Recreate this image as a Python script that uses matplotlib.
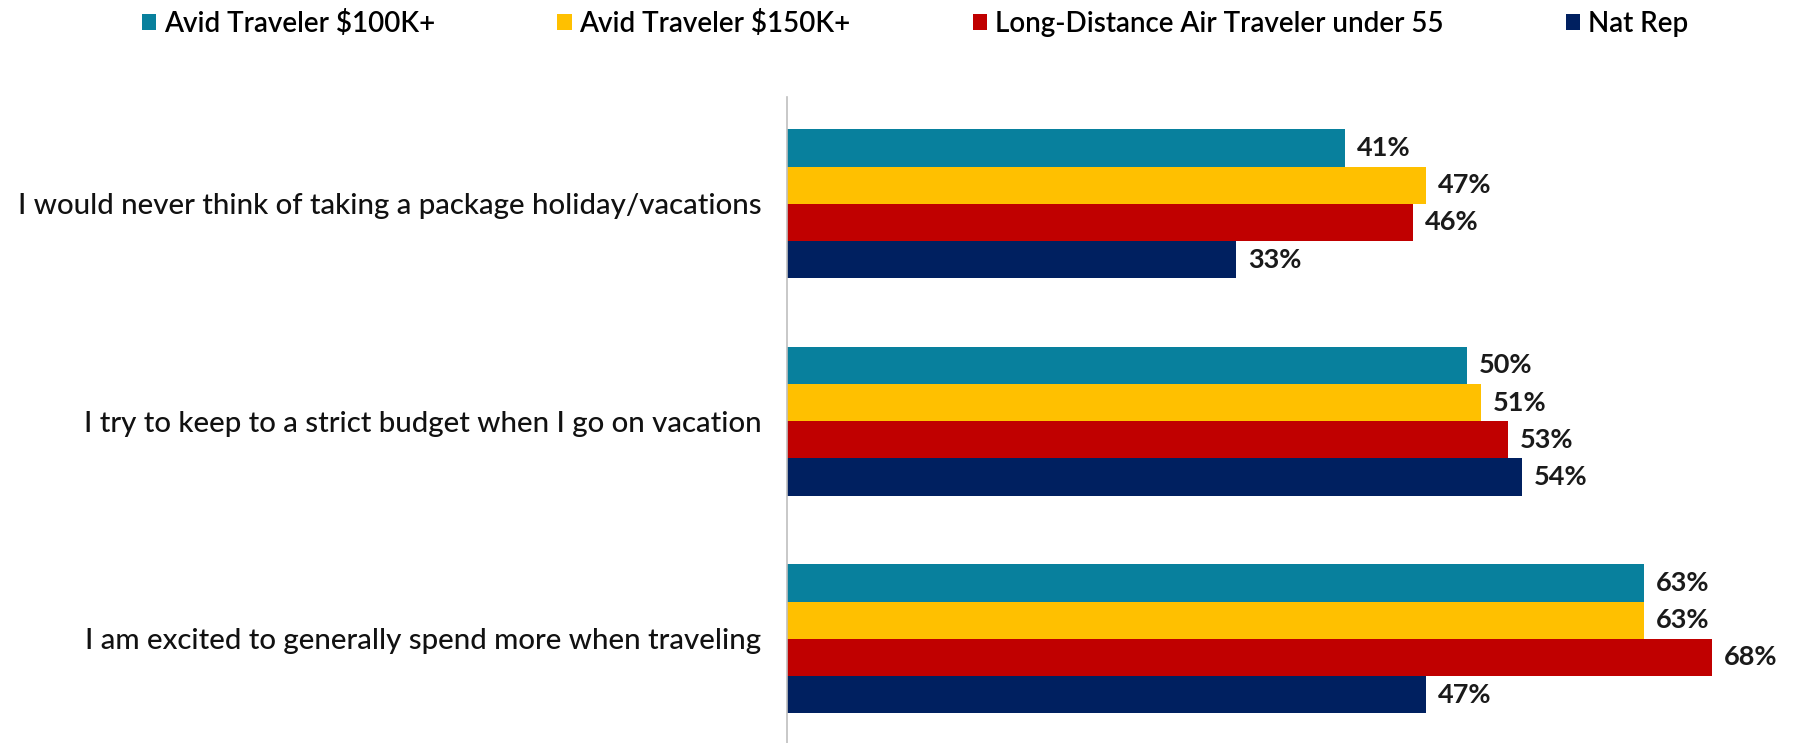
import numpy as np
import matplotlib.pyplot as plt
from matplotlib.patches import Patch

# Data
statements = ["I would never think of taking a package holiday/vacations",
              "I try to keep to a strict budget when I go on vacation",
              "I am excited to generally spend more when traveling"]
series_names = ["Avid Traveler $100K+",
                "Avid Traveler $150K+",
                "Long-Distance Air Traveler under 55",
                "Nat Rep"]
avid_100k = [41, 50, 63]
avid_150k = [47, 51, 63]
long_dist = [46, 53, 68]
nat_rep = [33, 54, 47]

colors = ["#08809D", "#FFC000", "#C00000", "#002060"]

plt.rcParams['font.family'] = ['Lato', 'DejaVu Sans']

fig = plt.figure(figsize=(17.95, 7.43), dpi=100)
ax = fig.add_axes([0.4382, 0.0, 0.546, 0.8695])

bar_h = 0.171
y = np.arange(len(statements))
all_series = [avid_100k, avid_150k, long_dist, nat_rep]

for i, (vals, col) in enumerate(zip(all_series, colors)):
    pos = y + (i - 1.5) * bar_h
    ax.barh(pos, vals, height=bar_h, color=col, edgecolor='none')
    for p, v in zip(pos, vals):
        ax.annotate(f"{v}%", (v, p), xytext=(12, 0), textcoords='offset pixels',
                    va='center', ha='left', fontsize=19.5, fontweight='bold',
                    color='#1a1a1a')

ax.set_xlim(0, 72)
ax.set_ylim(2.479, -0.491)
ax.set_yticks(y)
ax.set_yticklabels(statements, fontsize=21.2, color='#111111', fontweight='medium')
ax.tick_params(axis='y', length=0, pad=18)
ax.set_xticks([])

for s in ['top', 'right', 'bottom']:
    ax.spines[s].set_visible(False)
ax.spines['left'].set_color('#BFBFBF')
ax.spines['left'].set_linewidth(1.2)

handles = [Patch(facecolor=c, edgecolor='none') for c in colors]
fig.legend(handles, series_names, loc='center', bbox_to_anchor=(0.5097, 0.969),
           ncol=4, frameon=False, handlelength=0.52,
           handleheight=0.52, handletextpad=0.27, columnspacing=4.4,
           prop={'size': 20, 'weight': 'semibold'})

fig.savefig("out.png", dpi=100)
